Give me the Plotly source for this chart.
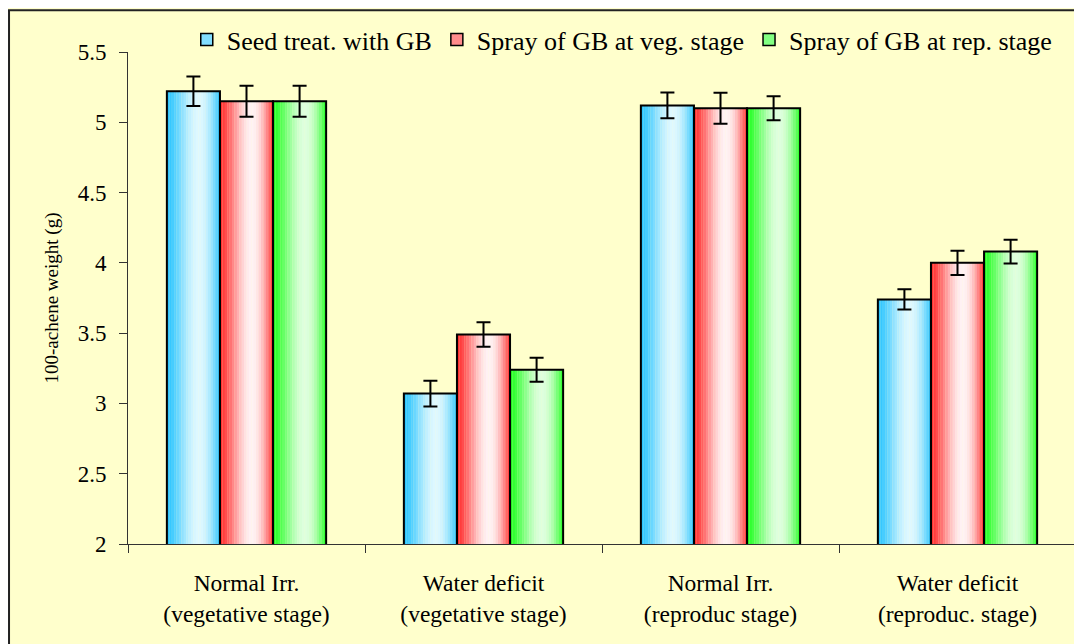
import math
import plotly.graph_objects as go

categories = [
    "Normal Irr.<br>(vegetative stage)",
    "Water deficit<br>(vegetative stage)",
    "Normal Irr.<br>(reproduc stage)",
    "Water deficit<br>(reproduc. stage)",
]
series_names = [
    "Seed treat. with GB",
    "Spray of GB at veg. stage",
    "Spray of GB at rep. stage",
]
seed_treat = [5.22, 3.07, 5.12, 3.74]
spray_veg = [5.15, 3.49, 5.10, 4.00]
spray_rep = [5.15, 3.24, 5.10, 4.08]
err_seed = [0.105, 0.092, 0.092, 0.072]
err_veg = [0.11, 0.087, 0.11, 0.087]
err_rep = [0.11, 0.085, 0.085, 0.085]
y_ticks = [2, 2.5, 3, 3.5, 4, 4.5, 5, 5.5]

values = [seed_treat, spray_veg, spray_rep]
errors = [err_seed, err_veg, err_rep]

# style: gradient colours (edge colour, light colour)
edge_cols = [(40, 196, 255), (255, 45, 45), (35, 255, 35)]
light_cols = [(222, 248, 255), (255, 242, 244), (222, 255, 222)]
legend_cols = ["rgb(130,222,255)", "rgb(255,140,140)", "rgb(130,255,130)"]

FONT = "Liberation Serif"
BAR_W = 0.224
GROUP_START = -1.5 * BAR_W
K = 22

fig = go.Figure()

for i in range(3):
    start = GROUP_START + i * BAR_W
    sw = BAR_W / K
    for k in range(K):
        t = (k + 0.5) / K
        l = math.sin(math.pi * (t ** 1.357))
        e, lc = edge_cols[i], light_cols[i]
        col = "rgb(%d,%d,%d)" % tuple(round(e[j] + (lc[j] - e[j]) * l) for j in range(3))
        fig.add_trace(go.Bar(
            x=categories, y=values[i], base=0,
            offset=start + k * sw, width=sw * 1.08,
            marker=dict(color=col, line=dict(width=0)),
            showlegend=False, hoverinfo="skip",
        ))

for i in range(3):
    start = GROUP_START + i * BAR_W
    fig.add_trace(go.Bar(
        x=categories, y=values[i],
        offset=start, width=BAR_W,
        marker=dict(color="rgba(0,0,0,0)", line=dict(color="black", width=2)),
        error_y=dict(type="data", array=errors[i], visible=True,
                     color="black", thickness=2, width=7),
        showlegend=False, name=series_names[i],
    ))

for i in range(3):
    fig.add_trace(go.Bar(
        x=[None], y=[None], name=series_names[i],
        marker=dict(color=legend_cols[i], line=dict(color="black", width=1.5)),
        showlegend=True,
    ))

fig.update_layout(
    width=1074, height=636,
    barmode="overlay",
    paper_bgcolor="#FFFFCC",
    plot_bgcolor="#FFFFCC",
    margin=dict(l=120, r=6, t=44, b=100, autoexpand=False),
    font=dict(family=FONT, color="black", size=23),
    legend=dict(
        orientation="h", x=0.062, xanchor="left", y=1.025, yanchor="middle",
        bgcolor="rgba(0,0,0,0)", font=dict(size=26, family=FONT),
        itemwidth=30, tracegroupgap=0,
    ),
    showlegend=True,
    shapes=[dict(type="rect", xref="paper", yref="paper",
                 x0=-0.1255, x1=1.02, y0=-0.22, y1=1.0848,
                 line=dict(color="#222222", width=2), layer="below")],
)

fig.update_xaxes(
    type="category", categoryorder="array", categoryarray=categories,
    showline=True, linecolor="#333333", linewidth=1,
    ticks="outside", tickson="boundaries", ticklen=8, tickcolor="#333333",
    showgrid=False, zeroline=False,
    tickfont=dict(size=23.5, family=FONT),
    ticklabelstandoff=18,
)
fig.update_yaxes(
    range=[2, 5.5], tickvals=y_ticks,
    ticktext=[("%g" % v) for v in y_ticks],
    showline=True, linecolor="#333333", linewidth=1,
    ticks="outside", ticklen=8, tickcolor="#333333",
    showgrid=False, zeroline=False,
    tickfont=dict(size=23, family=FONT),
    ticklabelstandoff=8,
    title=dict(text="100-achene weight (g)", font=dict(size=19, family=FONT), standoff=14),
)

fig.write_html("out.html")
